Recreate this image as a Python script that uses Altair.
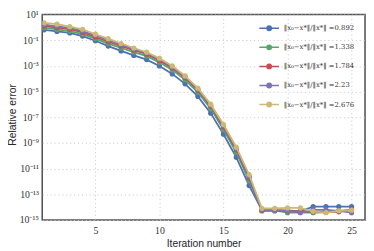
import altair as alt
import pandas as pd
import math

iterations = list(range(1, 26))

series_labels = [
    "‖x₀−x*‖/‖x*‖ =0.892",
    "‖x₀−x*‖/‖x*‖ =1.338",
    "‖x₀−x*‖/‖x*‖ =1.784",
    "‖x₀−x*‖/‖x*‖ =2.23",
    "‖x₀−x*‖/‖x*‖ =2.676",
]
series_colors = ["#4C72B0", "#55A868", "#C44E52", "#8172B2", "#CCB974"]

err_0892 = [0.65, 0.49, 0.37, 0.21, 0.091, 0.035, 0.0148, 0.0066, 0.0031, 9.8e-4,
            2.4e-4, 4.0e-5, 4.2e-6, 2.1e-7, 4.8e-9, 7.6e-11, 4.8e-13, 5.8e-15,
            5.8e-15, 5.5e-15, 4.7e-15, 1.1e-14, 1.1e-14, 1.1e-14, 1.1e-14]
err_1338 = [0.91, 0.69, 0.52, 0.30, 0.135, 0.055, 0.025, 0.0117, 0.0058, 1.9e-3,
            4.9e-4, 8.3e-5, 8.9e-6, 4.7e-7, 1.12e-8, 1.8e-10, 1.12e-12, 5.5e-15,
            5.5e-15, 3.7e-15, 4.0e-15, 3.7e-15, 4.0e-15, 5.1e-15, 6.0e-15]
err_1784 = [1.26, 0.95, 0.72, 0.41, 0.18, 0.076, 0.035, 0.0166, 0.0081, 2.7e-3,
            6.9e-4, 1.2e-4, 1.32e-5, 7.1e-7, 1.74e-8, 2.9e-10, 1.9e-12, 5.1e-15,
            5.1e-15, 4.7e-15, 4.7e-15, 4.3e-15, 4.3e-15, 4.3e-15, 6.6e-15]
err_2230 = [1.62, 1.23, 0.93, 0.52, 0.234, 0.10, 0.045, 0.0204, 0.010, 3.3e-3,
            8.5e-4, 1.45e-4, 1.58e-5, 8.9e-7, 2.24e-8, 3.7e-10, 2.5e-12, 5.8e-15,
            5.5e-15, 5.1e-15, 3.7e-15, 6.2e-15, 6.2e-15, 5.2e-15, 3.7e-15]
err_2676 = [2.24, 1.78, 1.15, 0.72, 0.295, 0.132, 0.056, 0.025, 0.0117, 0.0039,
            1.0e-3, 1.66e-4, 1.86e-5, 1.05e-6, 2.7e-8, 4.7e-10, 3.5e-12, 8.1e-15,
            8.1e-15, 8.7e-15, 8.7e-15, 4.7e-15, 3.7e-15, 5.2e-15, 5.8e-15]

x_ticks = [5, 10, 15, 20, 25]
y_ticks = [1e1, 1e-1, 1e-3, 1e-5, 1e-7, 1e-9, 1e-11, 1e-13, 1e-15]
y_tick_labels = ["10¹", "10⁻¹", "10⁻³", "10⁻⁵", "10⁻⁷", "10⁻⁹", "10⁻¹¹", "10⁻¹³", "10⁻¹⁵"]

all_series = [err_0892, err_1338, err_1784, err_2230, err_2676]
rows = []
for k, (lab, vals) in enumerate(zip(series_labels, all_series)):
    for it, v in zip(iterations, vals):
        rows.append({"iter": it, "err": v, "series": lab, "k": k})
df = pd.DataFrame(rows)

expr = "''"
for v, t in reversed(list(zip(y_ticks, y_tick_labels))):
    expr = f"(abs(log(datum.value)/LN10 - ({round(math.log10(v))})) < 0.01 ? '{t}' : {expr})"

legend_symbol = "M-1,0H1M-0.22,0A0.22,0.22,0,1,0,0.22,0A0.22,0.22,0,1,0,-0.22,0Z"

color = alt.Color(
    "series:N",
    scale=alt.Scale(domain=series_labels, range=series_colors),
    legend=alt.Legend(
        title=None,
        orient="none",
        legendX=221,
        legendY=3,
        symbolType=legend_symbol,
        symbolSize=400,
        symbolStrokeWidth=1.6,
        labelFont="DejaVu Serif",
        labelFontSize=7,
        labelColor="#333333",
        rowPadding=2.5,
        labelOffset=4,
        labelLimit=200,
    ),
)

x = alt.X(
    "iter:Q",
    scale=alt.Scale(domain=[0.85, 26.05], nice=False, zero=False),
    axis=alt.Axis(values=x_ticks, title="Iteration number"),
)
y = alt.Y(
    "err:Q",
    scale=alt.Scale(type="log", domain=[1e-15, 10], nice=False),
    axis=alt.Axis(values=y_ticks, labelExpr=expr, title="Relative error",
                  titleX=-35, titleY=102, titleBaseline="top", titleAngle=270),
)

layers = []
for k in range(len(series_labels)):
    base = alt.Chart(df).transform_filter(alt.datum.k == k)
    layers.append(base.mark_line(strokeWidth=1.8, clip=True).encode(x=x, y=y, color=color))
    layers.append(base.mark_point(filled=True, size=28, opacity=1, clip=True).encode(x=x, y=y, color=color))

chart = alt.layer(*layers).properties(
    width=330,
    height=210,
    padding={"left": 35, "top": 4, "right": 1, "bottom": 29},
    autosize=alt.AutoSizeParams(type="none"),
).configure_view(
    stroke="#555555", strokeWidth=1.6
).configure_axis(
    domain=False,
    ticks=False,
    grid=True,
    gridColor="#c8c8c8",
    gridDash=[1.2, 2.8],
    gridWidth=0.9,
    labelFont="Liberation Serif",
    labelFontSize=10,
    labelColor="#333333",
    titleFont="Liberation Sans",
    titleFontSize=10.5,
    titleFontWeight="normal",
    titleColor="#262626",
).configure_axisX(
    labelPadding=6, titlePadding=3
).configure_axisY(
    labelPadding=4
)

chart.save("out.html", embed_options={"renderer": "svg", "actions": False})
